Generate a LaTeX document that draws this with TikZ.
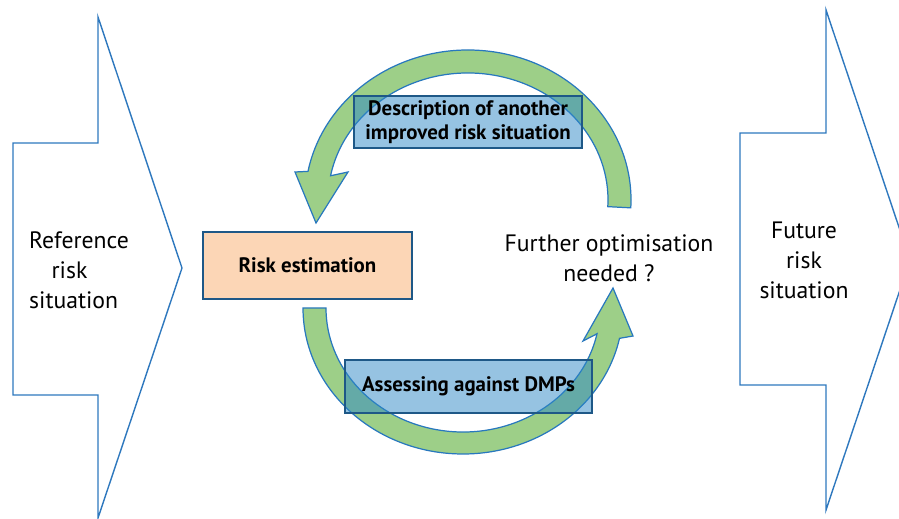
\documentclass[tikz,border=0pt]{standalone}
\usepackage{fontspec}
\setmainfont{PT Sans}
\usepackage{tikz}
\usetikzlibrary{calc,positioning}

\definecolor{outline}{RGB}{46,120,190}
\definecolor{loopgreen}{RGB}{157,207,136}
\definecolor{loopedge}{RGB}{40,120,190}
\definecolor{peach}{RGB}{252,214,182}
\definecolor{boxedge}{RGB}{30,88,135}
\definecolor{boxblue}{RGB}{45,135,198}

\begin{document}
\begin{tikzpicture}[x=0.02cm, y=-0.02cm, line join=miter]
    \tikzstyle{big arrow}=[draw=outline, line width=0.8pt, fill=white]
    \tikzstyle{loop arrow}=[draw=loopedge, line width=0.7pt, fill=loopgreen]
    \tikzstyle{step box}=[rectangle, draw=boxedge, line width=1.2pt, inner sep=0pt,
        font=\fontsize{11.9}{13.8}\selectfont\bfseries, align=center]
    \tikzstyle{plain text}=[font=\fontsize{13.5}{17}\selectfont, inner sep=0pt]

    \clip (0,0) rectangle (899,519);

    % the two large arrows
    \draw[big arrow] (13,143) -- (98,143) -- (98,17) -- (182,268) -- (98,518)
        -- (98,395) -- (13,395) -- cycle;
    \draw[big arrow] (740,133) -- (826,133) -- (826,10) -- (910,260) -- (826,510)
        -- (826,385) -- (740,385) -- cycle;

    \node[plain text, align=left] (reference) at (79,270)
        {Reference\\\hspace{0.45cm}risk\\situation};
    \node[plain text, align=center] (future) at (804,260) {Future\\risk\\situation};

    % the loop
    \coordinate (upc) at (468,200);
    \coordinate (lowc) at (463,308);

    \draw[loop arrow] ($(upc)+(3:163 and 150)$)
        arc[start angle=3, end angle=-169, x radius=163, y radius=150]
        -- (295,172) -- (316,223) -- (348,172)
        -- ($(upc)+(-169:140 and 127)$)
        arc[start angle=-169, end angle=3, x radius=140, y radius=127] -- cycle;

    \draw[loop arrow] ($(lowc)+(180:160 and 146)$)
        arc[start angle=180, end angle=12, x radius=160, y radius=146]
        -- (633,336) -- (613,288) -- (583,341)
        -- ($(lowc)+(12:137 and 124)$)
        arc[start angle=12, end angle=180, x radius=137, y radius=124] -- cycle;

    \node[step box, fill=peach, line width=1.5pt, minimum width=4.18cm,
        minimum height=1.34cm] (estimation) at (307.5,265.5) {Risk estimation};
    \node[step box, fill=boxblue, fill opacity=0.5, text opacity=1,
        minimum width=4.56cm, minimum height=1.04cm] (description) at (468,122)
        {Description of another\\improved risk situation};
    \node[step box, fill=boxblue, fill opacity=0.5, text opacity=1,
        minimum width=4.94cm, minimum height=1.06cm] (assessing) at (468.5,386.5)
        {Assessing against DMPs};

    \node[plain text, align=center] (further) at (609,258)
        {Further optimisation\\needed ?};
\end{tikzpicture}
\end{document}
